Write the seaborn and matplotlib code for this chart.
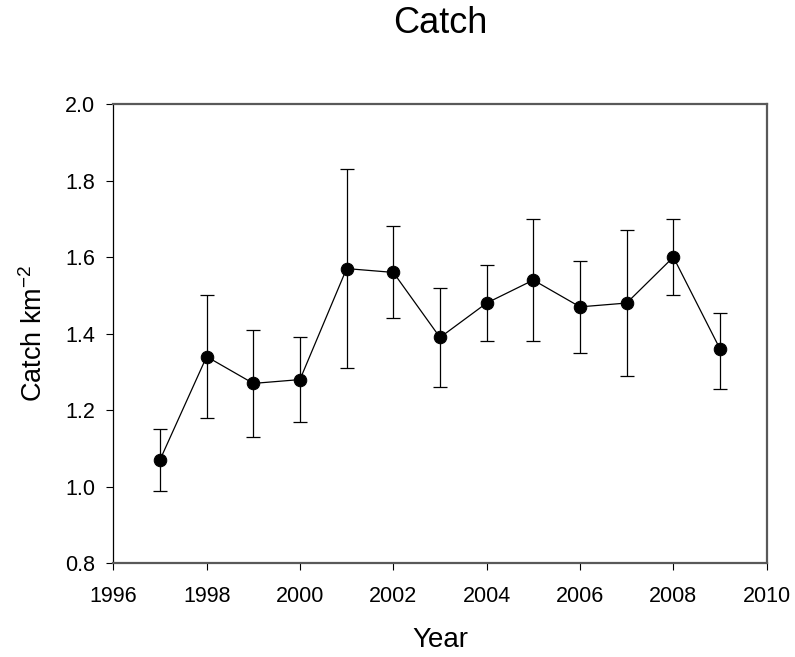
import numpy as np
import pandas as pd
import matplotlib
matplotlib.use("Agg")   # no display in the sandbox
import matplotlib.pyplot as plt
import seaborn as sns

# values
years     = [1997, 1998, 1999, 2000, 2001, 2002, 2003, 2004, 2005, 2006, 2007, 2008, 2009]
catch     = [1.07, 1.34, 1.27, 1.28, 1.57, 1.56, 1.39, 1.48, 1.54, 1.47, 1.48, 1.60, 1.36]
err_upper = [1.15, 1.50, 1.41, 1.39, 1.83, 1.68, 1.52, 1.58, 1.70, 1.59, 1.67, 1.70, 1.455]
err_lower = [0.99, 1.18, 1.13, 1.17, 1.31, 1.44, 1.26, 1.38, 1.38, 1.35, 1.29, 1.50, 1.255]

x_ticks = [1996, 1998, 2000, 2002, 2004, 2006, 2008, 2010]
y_ticks = [0.8, 1.0, 1.2, 1.4, 1.6, 1.8, 2.0]

sns.set_style("ticks")
plt.rcParams["font.family"] = ["Liberation Sans", "DejaVu Sans"]
plt.rcParams["mathtext.default"] = "regular"
for key in ["text.color", "axes.labelcolor", "xtick.color", "ytick.color"]:
    plt.rcParams[key] = "black"

df = pd.DataFrame({"Year": years, "Catch": catch})
yerr = np.array([np.array(catch) - np.array(err_lower),
                 np.array(err_upper) - np.array(catch)])

fig = plt.figure(figsize=(7.95, 6.57), dpi=100)
ax  = fig.add_axes([0.1425, 0.1426, 0.8219, 0.6991])

# error bars first, then the line and markers on top
ax.errorbar(years, catch, yerr=yerr, fmt="none", ecolor="black",
            elinewidth=0.9, capsize=4.7, capthick=0.9, zorder=2)
sns.lineplot(data=df, x="Year", y="Catch", ax=ax, color="black",
             linewidth=0.9, marker="o", markersize=9,
             markeredgecolor="black", markerfacecolor="black", zorder=3)

ax.set_xlim(1996, 2010)
ax.set_ylim(0.8, 2.0)
ax.set_xticks(x_ticks)
ax.set_yticks(y_ticks)
ax.set_yticklabels([f"{v:.1f}" for v in y_ticks])

ax.tick_params(axis="both", direction="out", length=5, width=0.8,
               color="black", labelcolor="black", labelsize=15.5)
ax.tick_params(axis="x", pad=11.5)
ax.tick_params(axis="y", pad=8)

# frame: black left axis, grey heavier frame elsewhere
for side in ["top", "right", "bottom"]:
    ax.spines[side].set_visible(True)
    ax.spines[side].set_color("#595959")
    ax.spines[side].set_linewidth(1.6)
ax.spines["left"].set_color("black")
ax.spines["left"].set_linewidth(0.9)

ax.set_xlabel("Year", fontsize=20, labelpad=14)
ax.set_ylabel("Catch km$^{-2}$", fontsize=19.5, labelpad=12)
ax.set_title("Catch", fontsize=26, pad=51)

plt.savefig("out.png", dpi=100)
plt.close()
